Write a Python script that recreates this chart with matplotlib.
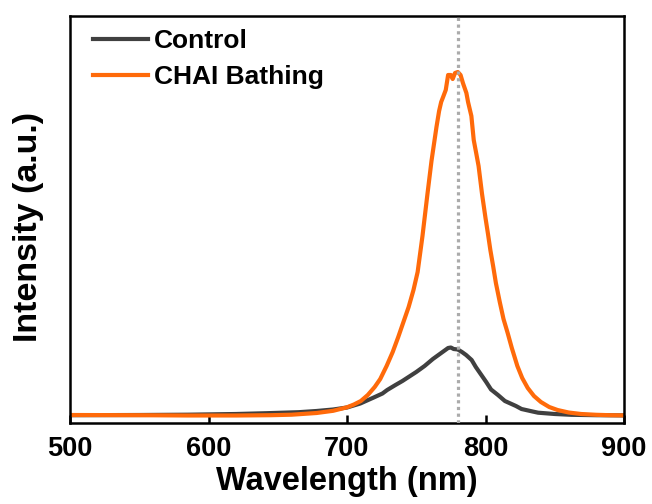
import matplotlib
matplotlib.use("Agg")
import matplotlib.pyplot as plt

plt.rcParams['font.family'] = ['Liberation Sans', 'DejaVu Sans']
plt.rcParams['font.weight'] = 'bold'

# Data (intensity in arbitrary units)
wl_control = [500, 550, 585, 620, 642, 665, 678, 690, 700, 709.6, 719.3, 725.6, 729,
              735, 740, 745, 750, 756, 762, 766, 770, 773, 775, 777, 780, 783, 786,
              790, 793, 797, 800.5, 804, 809, 814, 822, 826, 834, 838, 850, 862,
              880, 900]
int_control = [0.8, 1, 1.3, 2, 2.8, 3.8, 5, 6.5, 8.5, 12.5, 18.5, 22.5, 26,
               31, 35, 39.5, 44, 50, 57, 61, 65, 68, 68.5, 67, 66.5, 64, 61,
               56, 49, 41, 34, 26.5, 21, 15, 10, 7, 4.5, 3.3, 2, 1.2,
               0.8, 0.6]

wl_chai = [500, 550, 585, 620, 645, 660, 678, 690, 700, 705, 710, 715, 720, 724,
           728.6, 733, 737, 741, 744.5, 748, 751, 754.5, 758, 761, 764.6, 766.5,
           768, 769.4, 771.3, 773, 775, 776.3, 778, 780, 782, 783.7, 786.2, 787.4,
           789.8, 791.5, 793.4, 795, 797.5, 800, 801.8, 803.5, 805.5, 807.5, 810.3,
           813, 816, 819, 823, 826.5, 830.5, 835, 840, 846, 852, 860, 869, 880,
           890, 900]
int_chai = [1, 0.8, 0.5, 0.5, 0.8, 1.3, 3, 5.2, 8.7, 11.5, 15, 21, 29, 37,
            50, 64, 79, 95, 109, 126, 144, 180, 221, 255, 289, 305,
            314, 319, 326, 341, 341, 337, 343, 344, 341, 333, 323, 314,
            300, 276, 262, 250, 222, 198, 182, 166, 150, 133, 114,
            97, 83, 68, 50, 38, 28, 20, 14, 9, 6, 3.5, 2, 1.2,
            0.8, 0.6]

peak_line = 780
x_ticks = [500, 600, 700, 800, 900]
labels = ['Control', 'CHAI Bathing']

fig = plt.figure(figsize=(6.52, 5.04), dpi=100)
ax = fig.add_axes([70/652, 1 - 423/504, 554/652, 407/504])

ax.plot(wl_control, int_control, color='#404040', lw=3, label=labels[0], zorder=2,
        solid_joinstyle='round')
ax.plot(wl_chai, int_chai, color='#FF6A0A', lw=3, label=labels[1], zorder=2,
        solid_joinstyle='round')
ax.axvline(peak_line, color='#ababab', lw=2.3, linestyle=(0, (1, 1.1)), zorder=3)

ax.set_xlim(500, 900)
ax.set_ylim(-7, 400)
ax.set_xticks(x_ticks)
ax.set_yticks([])
ax.tick_params(axis='x', direction='in', length=6, width=1.8, pad=9.5, labelsize=19.5)
for lab in ax.get_xticklabels():
    lab.set_fontweight('bold')
for sp in ax.spines.values():
    sp.set_linewidth(1.8)

ax.set_xlabel('Wavelength (nm)', fontsize=23.5, fontweight='bold', labelpad=3)
ax.set_ylabel('Intensity (a.u.)', fontsize=24.5, fontweight='bold')
ax.yaxis.set_label_coords(-0.047, 0.482)

leg = ax.legend(loc='upper left', bbox_to_anchor=(0.041, 0.968), frameon=False,
                prop={'size': 19, 'weight': 'bold'}, handlelength=2.1,
                handletextpad=0.22, labelspacing=0.45, borderpad=0, borderaxespad=0)

fig.savefig('out.png', dpi=100)
